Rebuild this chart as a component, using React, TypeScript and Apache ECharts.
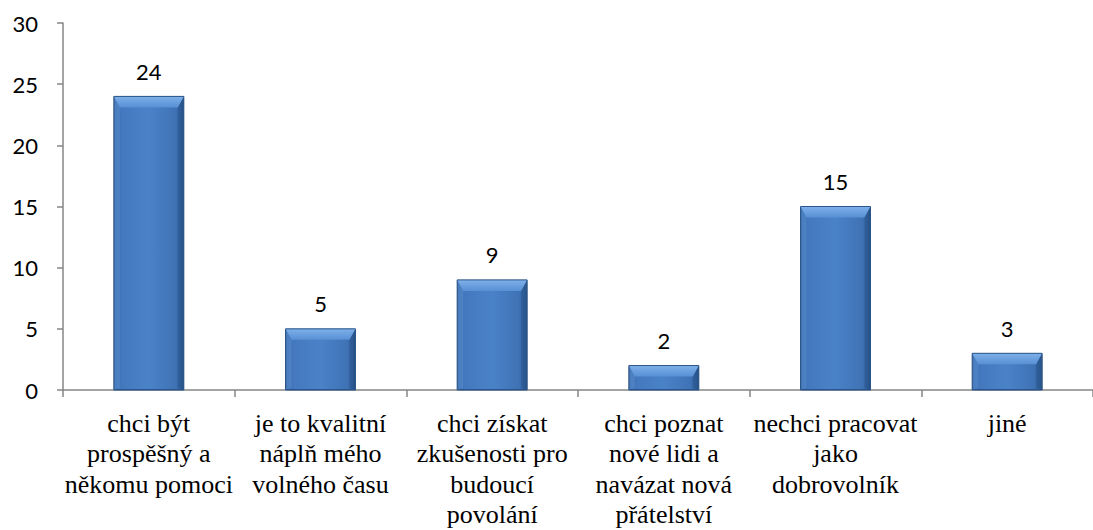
import React, { useEffect, useRef } from "react";
import * as echarts from "echarts";

const categories = [
  "chci být\nprospěšný a\nněkomu pomoci",
  "je to kvalitní\nnáplň mého\nvolného času",
  "chci získat\nzkušenosti pro\nbudoucí\npovolání",
  "chci poznat\nnové lidi a\nnavázat nová\npřátelství",
  "nechci pracovat\njako\ndobrovolník",
  "jiné",
];
const values = [24, 5, 9, 2, 15, 3];
const yTicks = { min: 0, max: 30, interval: 5 };

const BAR_W = 70;
const SERIF = "Liberation Serif, Times New Roman, serif";
const SANS = "Lato, Carlito, sans-serif";

export default function App() {
  const ref = useRef<HTMLDivElement>(null);
  useEffect(() => {
    if (!ref.current) return;
    const chart = echarts.init(ref.current, undefined, { renderer: "svg" });
    const axisColor = "#868686";
    chart.setOption({
      animation: false,
      textStyle: { fontFamily: SANS },
      grid: { left: 63, right: -7, top: 23, bottom: 136, containLabel: false },
      xAxis: {
        type: "category",
        data: categories,
        boundaryGap: true,
        axisLine: { show: true, lineStyle: { color: axisColor, width: 1.5 } },
        axisTick: { show: true, length: 7, lineStyle: { color: axisColor, width: 1.5 } },
        axisLabel: {
          interval: 0,
          margin: 18,
          color: "#000",
          fontFamily: SERIF,
          fontSize: 26,
          lineHeight: 30.5,
          align: "center",
          rich: {},
        },
      },
      yAxis: {
        type: "value",
        min: yTicks.min,
        max: yTicks.max,
        interval: yTicks.interval,
        splitLine: { show: false },
        axisLine: { show: true, lineStyle: { color: axisColor, width: 1.5 } },
        axisTick: { show: true, length: 6, lineStyle: { color: axisColor, width: 1.5 } },
        axisLabel: {
          margin: 25,
          color: "#000",
          fontFamily: SANS,
          fontSize: 22,
        },
      },
      series: [
        {
          type: "bar",
          data: values,
          barWidth: BAR_W,
          itemStyle: {
            color: new echarts.graphic.LinearGradient(0, 0, 1, 0, [
              { offset: 0, color: "#3a6fb2" },
              { offset: 0.12, color: "#4479bf" },
              { offset: 0.5, color: "#4a82c8" },
              { offset: 0.88, color: "#3f73b6" },
              { offset: 1, color: "#2f5f9a" },
            ]),
            borderColor: "#2b5689",
            borderWidth: 1,
          },
          label: {
            show: true,
            position: "top",
            distance: 14,
            color: "#000",
            fontFamily: SANS,
            fontSize: 22,
          },
          z: 2,
        },
        {
          type: "custom",
          data: values.map((v, i) => [i, v]),
          z: 3,
          silent: true,
          renderItem: (params: any, api: any) => {
            const idx = api.value(0);
            const v = api.value(1);
            const top = api.coord([idx, v]);
            const bottom = api.coord([idx, 0]);
            const x0 = top[0] - BAR_W / 2;
            const x1 = top[0] + BAR_W / 2;
            const y0 = top[1];
            const y1 = bottom[1];
            const b = Math.min(11, (y1 - y0) / 2);
            const s = 6;
            return {
              type: "group",
              children: [
                {
                  type: "polygon",
                  shape: { points: [[x0, y0], [x1, y0], [x1 - s, y0 + b], [x0 + s, y0 + b]] },
                  style: {
                    fill: new echarts.graphic.LinearGradient(0, 0, 0, 1, [
                      { offset: 0, color: "#7fb0ea" },
                      { offset: 1, color: "#5790d4" },
                    ]),
                  },
                },
                {
                  type: "polygon",
                  shape: { points: [[x0, y0], [x0 + s, y0 + b], [x0 + s, y1 - 2], [x0, y1]] },
                  style: { fill: "rgba(110,160,220,0.3)" },
                },
                {
                  type: "polygon",
                  shape: { points: [[x1, y0], [x1 - s, y0 + b], [x1 - s, y1 - 2], [x1, y1]] },
                  style: { fill: "rgba(20,50,90,0.22)" },
                },
                {
                  type: "rect",
                  shape: { x: x0, y: y0, width: BAR_W, height: y1 - y0 },
                  style: { fill: "none", stroke: "#2b5689", lineWidth: 1 },
                },
              ],
            };
          },
        },
      ],
    });
    return () => chart.dispose();
  }, []);
  return (
    <div
      ref={ref}
      style={{ position: "fixed", left: 0, top: 0, width: 1093, height: 530, background: "#fff" }}
    />
  );
}
